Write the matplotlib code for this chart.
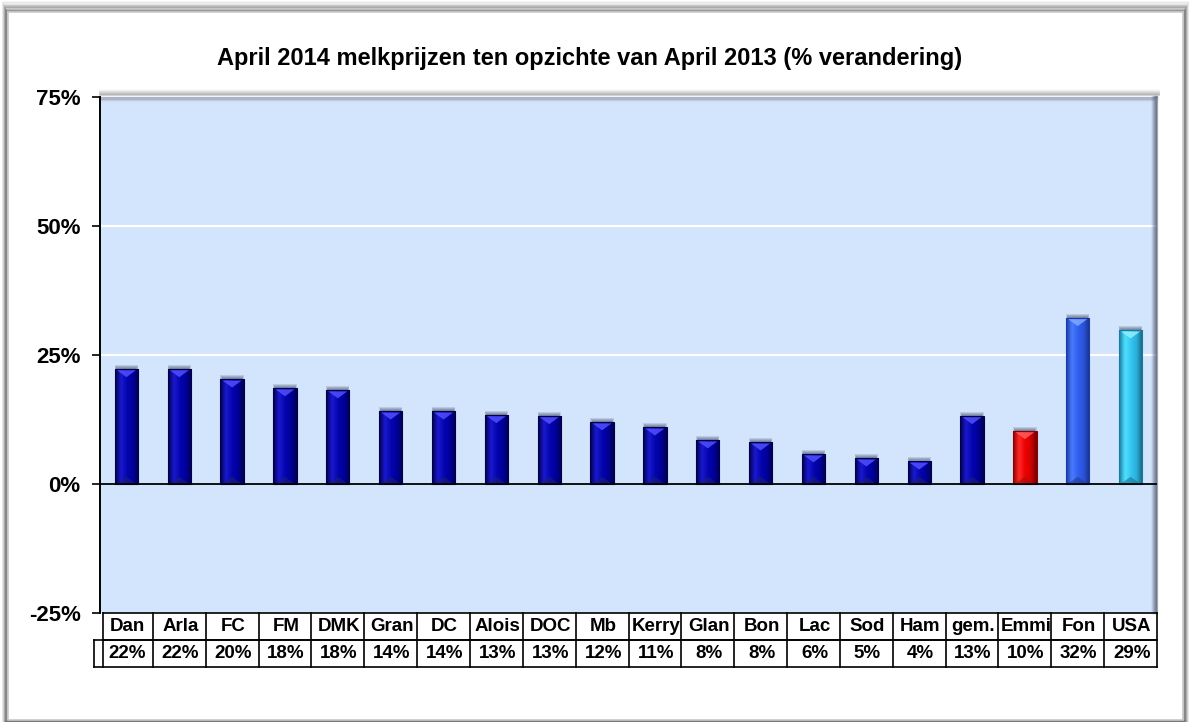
import numpy as np
import matplotlib
matplotlib.use("Agg")
import matplotlib.pyplot as plt
from matplotlib.colors import LinearSegmentedColormap
from matplotlib.patches import Rectangle, Polygon
import matplotlib.transforms as mtransforms

plt.rcParams['font.family'] = ['Liberation Sans', 'DejaVu Sans']

# ---------------- data ----------------
title = "April 2014 melkprijzen ten opzichte van April 2013 (% verandering)"
categories = ["Dan", "Arla", "FC", "FM", "DMK", "Gran", "DC", "Alois", "DOC", "Mb",
              "Kerry", "Glan", "Bon", "Lac", "Sod", "Ham", "gem.", "Emmi", "Fon", "USA"]
values = [22.3, 22.3, 20.3, 18.6, 18.2, 14.1, 14.1, 13.4, 13.2, 12.0,
          11.0, 8.5, 8.1, 5.8, 5.0, 4.4, 13.2, 10.3, 32.2, 29.8]
value_labels = ["22%", "22%", "20%", "18%", "18%", "14%", "14%", "13%", "13%", "12%",
                "11%", "8%", "8%", "6%", "5%", "4%", "13%", "10%", "32%", "29%"]
yticks = [-25, 0, 25, 50, 75]
ytick_labels = ["-25%", "0%", "25%", "50%", "75%"]
bar_styles = ["navy"] * 17 + ["red", "blue", "cyan"]

# gradient palettes (left edge -> highlight -> center -> right edge)
palettes = {
    "navy": ["#00004a", "#1a1ad0", "#0505b0", "#00009a", "#000050"],
    "red": ["#900000", "#ff2a2a", "#f00000", "#d00000", "#700000"],
    "blue": ["#1a3aa8", "#4a7cff", "#3060f0", "#2a52d8", "#163080"],
    "cyan": ["#1a7aa0", "#50e0ff", "#33c6f0", "#2aaed8", "#155f80"],
}
top_light = {"navy": "#5050ff", "red": "#ff6060", "blue": "#80a8ff", "cyan": "#90f0ff"}
bot_dark = {"navy": "#202070", "red": "#a01010", "blue": "#203c90", "cyan": "#1e7090"}

W, H = 1190, 727
fig = plt.figure(figsize=(W / 100, H / 100), dpi=100)
fig.patch.set_facecolor("white")

# outer frame with soft gray shadow
bg = fig.add_axes([0, 0, 1, 1], zorder=-10)
bg.set_xlim(0, W); bg.set_ylim(H, 0); bg.axis("off")
for i, a in enumerate(np.linspace(0.55, 0.05, 8)):
    bg.add_patch(Rectangle((7 - i * 0.6, 11 - i * 1.3), 1177 + i * 1.2, 710 + i * 1.3,
                           facecolor="none", edgecolor=(0.45, 0.45, 0.45, a), lw=1.4))
bg.add_patch(Rectangle((8, 12), 1175, 708, facecolor="white", edgecolor="#c8c8c8", lw=1.2))

# plot area
L, R, T, B = 100, 1157, 97, 613
ax = fig.add_axes([L / W, 1 - B / H, (R - L) / W, (B - T) / H])
ax.set_facecolor("#d2e5fd")
n = len(categories)
ax.set_xlim(-0.5, n - 0.5)
ax.set_ylim(-25, 75)

# gridlines
for y in [25, 50]:
    ax.axhline(y, color="white", lw=1.6, zorder=1)

# plot-area bevel shading (top and right)
for i, a in enumerate(np.linspace(0.5, 0.05, 6)):
    ax.plot([0, 1], [1 - 0.0015 * i, 1 - 0.0015 * i], transform=ax.transAxes,
            color=(0.55, 0.55, 0.6, a), lw=1.0, zorder=1, clip_on=False)
    ax.plot([1 - 0.0009 * i, 1 - 0.0009 * i], [0, 1], transform=ax.transAxes,
            color=(0.3, 0.32, 0.4, a), lw=1.6, zorder=1, clip_on=False)
# shadow outside top edge
for i, a in enumerate(np.linspace(0.35, 0.03, 6)):
    ax.plot([0, 1.002], [1.003 + 0.002 * i] * 2, transform=ax.transAxes,
            color=(0.4, 0.4, 0.4, a), lw=1.2, zorder=1, clip_on=False)

x = np.arange(n)
bw = 0.44
bars = ax.bar(x, values, width=bw, color="none", edgecolor="none", zorder=3)

for rect, style in zip(bars, bar_styles):
    x0 = rect.get_x(); w = rect.get_width(); h = rect.get_height()
    # soft shadow at top
    for k in range(4):
        ax.add_patch(Rectangle((x0 + 0.01 * (3 - k), h - 0.2), w - 0.02 * (3 - k), 0.35 + 0.2 * k,
                               facecolor=(0.05, 0.05, 0.15, 0.13), edgecolor="none", zorder=2))
    cmap = LinearSegmentedColormap.from_list(style, palettes[style])
    grad = np.linspace(0, 1, 64).reshape(1, -1)
    im = ax.imshow(grad, cmap=cmap, aspect="auto", extent=[x0, x0 + w, 0, h],
                   zorder=3, interpolation="bicubic")
    im.set_clip_path(rect)
    # top bevel (light triangle) and bottom bevel
    th = 1.6
    ax.add_patch(Polygon([[x0 + 0.04, h - 0.25], [x0 + w - 0.04, h - 0.25],
                          [x0 + w / 2, h - th]], closed=True,
                         facecolor=top_light[style], edgecolor="none", alpha=0.85, zorder=4))
    ax.add_patch(Polygon([[x0 + 0.04, 0.1], [x0 + w - 0.04, 0.1],
                          [x0 + w / 2, 1.4]], closed=True,
                         facecolor=bot_dark[style], edgecolor="none", alpha=0.6, zorder=4))
    ax.add_patch(Rectangle((x0, 0), w, h, facecolor="none",
                           edgecolor=palettes[style][0], lw=0.8, zorder=5))

ax.axhline(0, color="black", lw=1.3, zorder=6)

ax.set_xticks([])
ax.set_yticks(yticks)
ax.set_yticklabels(ytick_labels, fontsize=16, fontweight="bold")
ax.tick_params(axis="y", direction="out", length=6, width=1.2, pad=8, color="black")
for s in ["top", "right", "bottom"]:
    ax.spines[s].set_visible(False)
ax.spines["left"].set_color("black")
ax.spines["left"].set_linewidth(1.4)
ax.spines["left"].set_zorder(7)

# title
fig.text(590 / W, 1 - 58 / H, title, ha="center", va="center",
         fontsize=17, fontweight="bold")

# data table under the plot
trans = mtransforms.blended_transform_factory(ax.transData, ax.transAxes)
ph = B - T
r1 = -27 / ph
r2 = -54 / ph
lk = dict(transform=trans, color="black", lw=1.2, clip_on=False, zorder=8)
left = -0.5 + 3 / ((R - L) / n)
key_left = -0.5 - 6 / ((R - L) / n)
right = n - 0.5
ax.plot([left, right], [0, 0], **lk)
ax.plot([left, right], [r1, r1], **lk)
ax.plot([key_left, right], [r1, r1], **lk)
ax.plot([key_left, right], [r2, r2], **lk)
ax.plot([key_left, key_left], [r1, r2], **lk)
ax.plot([left, left], [0, r2], **lk)
for i in range(1, n + 1):
    xb = i - 0.5
    ax.plot([xb, xb], [0, r2], **lk)
for i, (c, v) in enumerate(zip(categories, value_labels)):
    ax.text(i + 0.02, r1 / 2, c, transform=trans, ha="center", va="center",
            fontsize=13.5, fontweight="bold", clip_on=False)
    ax.text(i + 0.02, (r1 + r2) / 2, v, transform=trans, ha="center", va="center",
            fontsize=13.5, fontweight="bold", clip_on=False)

fig.savefig("out.png", dpi=100, facecolor="white")
